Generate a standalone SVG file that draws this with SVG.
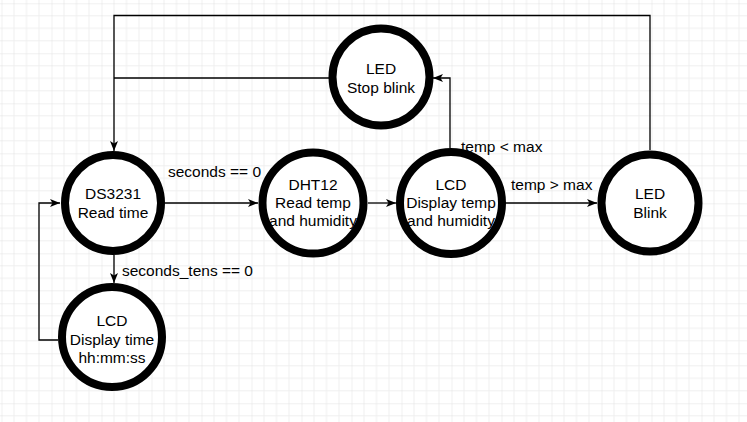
<svg xmlns="http://www.w3.org/2000/svg" width="747" height="422" viewBox="0 0 747 422">
<style>
.node{fill:#fff;stroke:#000;stroke-width:8}
.t{font-family:"Liberation Sans",Arial,sans-serif;font-size:15.5px;fill:#000;text-anchor:middle}
.l{font-family:"Liberation Sans",Arial,sans-serif;font-size:15.5px;fill:#000}
.c{fill:none;stroke:#000;stroke-width:1.3}
</style>
<defs>
<pattern id="grid" x="1.5" y="3.3" width="50" height="50" patternUnits="userSpaceOnUse">
<path d="M12.5,0V50M25,0V50M37.5,0V50M0,12.5H50M0,25H50M0,37.5H50" stroke="#efefef" stroke-width="1" fill="none"/>
<path d="M0,0V50M0,0H50" stroke="#e2e2e2" stroke-width="1" fill="none"/>
</pattern>
<marker id="arr" viewBox="0 0 10 8" refX="10" refY="4" markerWidth="10" markerHeight="8" markerUnits="userSpaceOnUse" orient="auto">
<path d="M0,0 L10,4 L0,8 L2.5,4 Z" fill="#000"/>
</marker>
</defs>
<rect width="747" height="422" fill="#fff"/>
<rect width="747" height="422" fill="url(#grid)"/>
<g id="connectors">
<path class="c" d="M165,203 H258" marker-end="url(#arr)"/>
<path class="c" d="M368,203 H396" marker-end="url(#arr)"/>
<path class="c" d="M505,203 H597" marker-end="url(#arr)"/>
<path class="c" d="M650,150 V15.5 H114 V151" marker-end="url(#arr)"/>
<path class="c" d="M450,148 V78 H433" marker-end="url(#arr)"/>
<path class="c" d="M329,78 H114"/>
<path class="c" d="M114,255 V283" marker-end="url(#arr)"/>
<path class="c" d="M58,340 H39 V203 H60" marker-end="url(#arr)"/>
<text class="l" x="168" y="177">seconds == 0</text>
<text class="l" x="122" y="276">seconds_tens == 0</text>
<text class="l" x="461" y="152">temp &lt; max</text>
<text class="l" x="511" y="190">temp &gt; max</text>
</g>
<g id="ds3231">
<circle class="node" cx="113" cy="203" r="48"/>
<text class="t" x="113" y="199">DS3231</text>
<text class="t" x="113" y="217.5">Read time</text>
</g>
<g id="dht12">
<circle class="node" cx="313" cy="203" r="50.5"/>
<text class="t" x="313" y="190">DHT12</text>
<text class="t" x="313" y="208">Read temp</text>
<text class="t" x="313" y="226">and humidity</text>
</g>
<g id="lcd-temp">
<circle class="node" cx="451" cy="203" r="51"/>
<text class="t" x="451" y="190">LCD</text>
<text class="t" x="451" y="208">Display temp</text>
<text class="t" x="451" y="226">and humidity</text>
</g>
<g id="led-blink">
<circle class="node" cx="650" cy="203" r="48.5"/>
<text class="t" x="650" y="199">LED</text>
<text class="t" x="650" y="217.5">Blink</text>
</g>
<g id="lcd-time">
<circle class="node" cx="112" cy="337" r="50"/>
<text class="t" x="112" y="326">LCD</text>
<text class="t" x="112" y="344.5">Display time</text>
<text class="t" x="112" y="363">hh:mm:ss</text>
</g>
<g id="led-stop">
<circle class="node" cx="381" cy="77" r="48.5"/>
<text class="t" x="381" y="74">LED</text>
<text class="t" x="381" y="92.5">Stop blink</text>
</g>
</svg>
